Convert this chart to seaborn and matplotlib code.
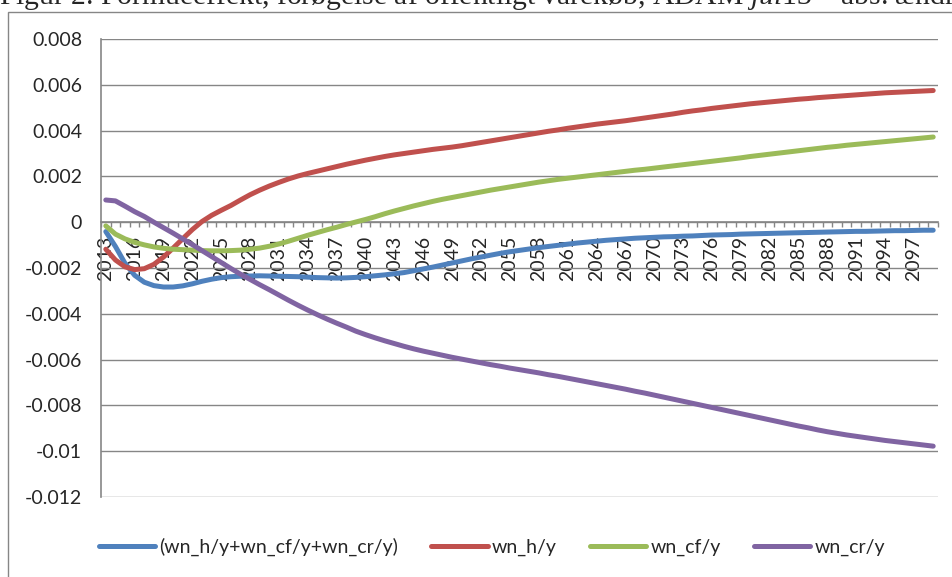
import numpy as np
import pandas as pd
import seaborn as sns
from matplotlib import pyplot as plt
from matplotlib.patches import Rectangle

# data, one value per year 2013-2099
years = list(range(2013, 2100))

total = [
    -0.00041, -0.00106, -0.00180, -0.00232, -0.00262, -0.00277, -0.00283,
    -0.00283, -0.00278, -0.00269, -0.00258, -0.00249, -0.00242, -0.00238, -0.00236, -0.00235, -0.00234,
    -0.00235, -0.00236, -0.00237, -0.00238, -0.00240, -0.00242, -0.00243, -0.00244, -0.00243, -0.00241,
    -0.00238, -0.00234, -0.00230, -0.00225, -0.00220, -0.00212, -0.00204, -0.00196, -0.00187, -0.00178,
    -0.00169, -0.00160, -0.00152, -0.00144, -0.00136, -0.00129, -0.00123, -0.00117, -0.00111, -0.00106,
    -0.00101, -0.00096, -0.00091, -0.00087, -0.00083, -0.00079, -0.00076, -0.00073, -0.00070, -0.00068,
    -0.00066, -0.00064, -0.00063, -0.00061, -0.00060, -0.00058, -0.00056, -0.00055, -0.00054, -0.00052,
    -0.00051, -0.00050, -0.00049, -0.00048, -0.00047, -0.00046, -0.00045, -0.00044, -0.00043, -0.00042,
    -0.00041, -0.00040, -0.00040, -0.00039, -0.00038, -0.00037, -0.00037, -0.00036, -0.00035, -0.00035,
]

wn_h = [
    -0.00118, -0.00165, -0.00195, -0.00207, -0.00203, -0.00184, -0.00152,
    -0.00113, -0.00072, -0.00032, 0.00003, 0.00030, 0.00052, 0.00073, 0.00097, 0.00120, 0.00140,
    0.00158, 0.00174, 0.00189, 0.00202, 0.00213, 0.00223, 0.00233, 0.00243, 0.00253, 0.00262,
    0.00271, 0.00279, 0.00287, 0.00294, 0.00300, 0.00306, 0.00312, 0.00318, 0.00323, 0.00328,
    0.00334, 0.00341, 0.00348, 0.00355, 0.00362, 0.00369, 0.00376, 0.00383, 0.00390, 0.00397,
    0.00403, 0.00410, 0.00416, 0.00422, 0.00428, 0.00433, 0.00438, 0.00443, 0.00449, 0.00455,
    0.00461, 0.00467, 0.00473, 0.00480, 0.00486, 0.00491, 0.00497, 0.00502, 0.00507, 0.00512,
    0.00517, 0.00521, 0.00525, 0.00529, 0.00533, 0.00537, 0.00540, 0.00544, 0.00547, 0.00550,
    0.00553, 0.00556, 0.00559, 0.00562, 0.00565, 0.00567, 0.00569, 0.00571, 0.00573, 0.00575,
]

wn_cf = [
    -0.00016, -0.00052, -0.00073, -0.00088, -0.00099, -0.00108, -0.00114,
    -0.00118, -0.00120, -0.00122, -0.00124, -0.00125, -0.00125, -0.00124, -0.00122, -0.00118, -0.00113,
    -0.00105, -0.00095, -0.00083, -0.00070, -0.00057, -0.00045, -0.00033, -0.00022, -0.00010, 0.00001,
    0.00012, 0.00024, 0.00037, 0.00049, 0.00060, 0.00071, 0.00081, 0.00091, 0.00100, 0.00108,
    0.00116, 0.00124, 0.00132, 0.00140, 0.00147, 0.00154, 0.00161, 0.00168, 0.00175, 0.00181,
    0.00187, 0.00192, 0.00197, 0.00202, 0.00207, 0.00212, 0.00217, 0.00222, 0.00227, 0.00231,
    0.00236, 0.00241, 0.00246, 0.00251, 0.00256, 0.00261, 0.00266, 0.00271, 0.00276, 0.00281,
    0.00287, 0.00292, 0.00297, 0.00302, 0.00307, 0.00312, 0.00317, 0.00322, 0.00327, 0.00331,
    0.00336, 0.00340, 0.00344, 0.00348, 0.00352, 0.00356, 0.00360, 0.00364, 0.00368, 0.00372,
]

wn_cr = [
    0.00097, 0.00093, 0.00070, 0.00046, 0.00025, 0.00000, -0.00024,
    -0.00048, -0.00073, -0.00098, -0.00124, -0.00150, -0.00176, -0.00202, -0.00227, -0.00250, -0.00273,
    -0.00295, -0.00318, -0.00341, -0.00363, -0.00384, -0.00404, -0.00423, -0.00441, -0.00458, -0.00476,
    -0.00491, -0.00505, -0.00518, -0.00530, -0.00542, -0.00553, -0.00563, -0.00572, -0.00581, -0.00590,
    -0.00598, -0.00606, -0.00614, -0.00622, -0.00629, -0.00637, -0.00644, -0.00651, -0.00658, -0.00666,
    -0.00673, -0.00681, -0.00689, -0.00697, -0.00705, -0.00713, -0.00721, -0.00729, -0.00738, -0.00746,
    -0.00755, -0.00764, -0.00773, -0.00782, -0.00791, -0.00800, -0.00809, -0.00818, -0.00827, -0.00836,
    -0.00845, -0.00854, -0.00863, -0.00872, -0.00881, -0.00890, -0.00898, -0.00907, -0.00915, -0.00922,
    -0.00929, -0.00935, -0.00941, -0.00947, -0.00953, -0.00958, -0.00963, -0.00968, -0.00973, -0.00978,
]

names = ['(wn_h/y+wn_cf/y+wn_cr/y)', 'wn_h/y', 'wn_cf/y', 'wn_cr/y']
colors = ['#4F81BD', '#C0504D', '#9BBB59', '#8064A2']

xtick_years = list(range(2013, 2098, 3))
yticks = [-0.012, -0.01, -0.008, -0.006, -0.004, -0.002, 0, 0.002, 0.004, 0.006, 0.008]
ytick_labels = ['-0.012', '-0.01', '-0.008', '-0.006', '-0.004', '-0.002', '0',
                '0.002', '0.004', '0.006', '0.008']

title = 'Figur 2. Formueeffekt, forøgelse af offentligt varekøb, ADAM $\\mathit{jul13}$ – abs. ændring'

df = pd.DataFrame({
    'year': years * 4,
    'value': total + wn_h + wn_cf + wn_cr,
    'series': sum([[n] * len(years) for n in names], []),
})

sns.set_style('white')
plt.rcParams['font.family'] = ['Lato', 'DejaVu Sans']
plt.rcParams['mathtext.fontset'] = 'custom'
plt.rcParams['mathtext.rm'] = 'Liberation Serif'
plt.rcParams['mathtext.it'] = 'Liberation Serif:italic'

grey = '#868686'
W, H = 953, 577
fs = 14

fig = plt.figure(figsize=(W / 100, H / 100), dpi=100)
ax = fig.add_axes([101 / W, 1 - 497 / H, (938 - 101) / W, (497 - 39) / H])

sns.lineplot(data=df, x='year', y='value', hue='series', hue_order=names,
             palette=colors, linewidth=3.6, ax=ax, solid_capstyle='round', zorder=3)

ax.set_xlim(2012.5, 2099.5)
ax.set_ylim(-0.012, 0.008)
ax.set_xlabel('')
ax.set_ylabel('')

ax.set_yticks(yticks)
ax.set_yticklabels(ytick_labels)
ax.set_xticks(xtick_years)
ax.set_xticklabels([str(y) for y in xtick_years])
ax.set_xticks(np.arange(2012.5, 2100, 1), minor=True)

ax.tick_params(axis='y', length=3.6, width=1, color=grey, pad=10, labelsize=fs, direction='out')
ax.tick_params(axis='x', which='major', length=0, pad=10, labelsize=fs, labelrotation=90)
ax.tick_params(axis='x', which='minor', length=3.3, width=1, color=grey, direction='out', bottom=True)

ax.yaxis.grid(True, color=grey, lw=1.0)
ax.set_axisbelow(True)
for s in ['top', 'right']:
    ax.spines[s].set_visible(False)
ax.spines['bottom'].set_position(('data', 0))
ax.spines['bottom'].set_color(grey)
ax.spines['left'].set_color(grey)
ax.spines['bottom'].set_linewidth(1.2)
ax.spines['left'].set_linewidth(1.2)

handles, labels = ax.get_legend_handles_labels()
ax.get_legend().remove()
fig.legend(handles, labels, loc='center', bbox_to_anchor=(492 / W, 1 - 547 / H),
           ncol=4, frameon=False, fontsize=fs, handlelength=2.9,
           handletextpad=0.22, columnspacing=1.7)

# outer chart frame (cut by the image on the right and bottom)
fig.add_artist(Rectangle((8 / W, -0.5), 2, 1 - 12 / H + 0.5, transform=fig.transFigure,
                         fill=False, edgecolor=grey, lw=1))

fig.text(-0.001, 1 - 4 / H, title, family='Liberation Serif', fontsize=21.3,
         va='baseline', ha='left')

fig.savefig('out.png', dpi=100)
